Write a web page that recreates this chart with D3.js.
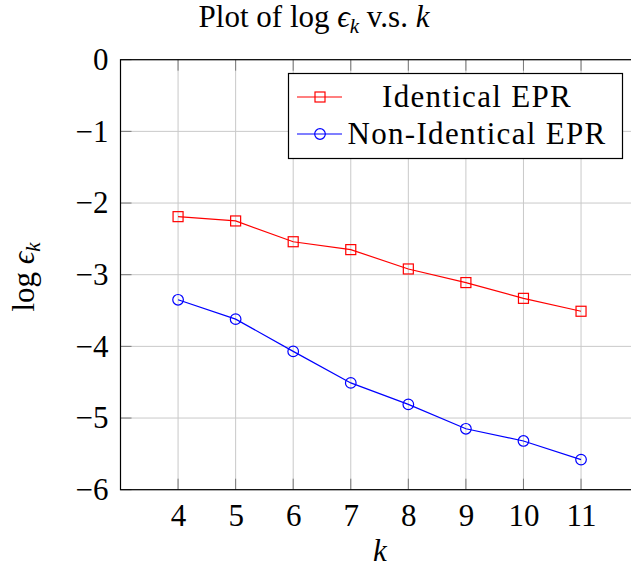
<!DOCTYPE html>
<html>
<head>
<meta charset="utf-8">
<script src="https://cdn.jsdelivr.net/npm/d3@7"></script>
<style>
  body { margin: 0; background: #fff; }
  text { font-family: "Liberation Serif", "DejaVu Serif", serif; fill: #000; }
</style>
</head>
<body>
<div id="chart"></div>
<script>
(function () {
    "use strict";

    // values
    const ks = [4, 5, 6, 7, 8, 9, 10, 11];
    const identical = [-2.19, -2.25, -2.54, -2.65, -2.92, -3.11, -3.33, -3.51];
    const nonIdentical = [-3.35, -3.62, -4.07, -4.51, -4.81, -5.15, -5.32, -5.58];
    const yTicks = [0, -1, -2, -3, -4, -5, -6];
    const seriesNames = ["Identical EPR", "Non-Identical EPR"];

    const width = 631, height = 571;
    const left = 120.5, right = 638.6, top = 59.7, bottom = 489.7;
    const fontSize = 31;

    let svg = d3.select("#chart").append("svg").attr("width", width).attr("height", height);

    let x = d3.scaleLinear().domain([3, 12]).range([left, right]);
    let y = d3.scaleLinear().domain([-6, 0]).range([bottom, top]);

    // grid
    let grid = svg.append("g");
    grid.selectAll("line.gx").data(ks).enter().append("line")
        .attr("x1", (d) => x(d)).attr("x2", (d) => x(d))
        .attr("y1", top).attr("y2", bottom)
        .attr("stroke", "#c9c9c9").attr("stroke-width", 1);
    grid.selectAll("line.gy").data(yTicks).enter().append("line")
        .attr("x1", left).attr("x2", right)
        .attr("y1", (d) => y(d)).attr("y2", (d) => y(d))
        .attr("stroke", "#c9c9c9").attr("stroke-width", 1);

    // small tick marks inside the frame
    let tk = svg.append("g").attr("stroke", "#7a7a7a").attr("stroke-width", 1);
    ks.forEach((k) => {
        tk.append("line").attr("x1", x(k)).attr("x2", x(k)).attr("y1", bottom).attr("y2", bottom - 11);
        tk.append("line").attr("x1", x(k)).attr("x2", x(k)).attr("y1", top).attr("y2", top + 11);
    });
    yTicks.forEach((v) => {
        tk.append("line").attr("x1", left).attr("x2", left + 11).attr("y1", y(v)).attr("y2", y(v));
    });

    // frame
    svg.append("rect").attr("x", left).attr("y", top)
        .attr("width", right - left).attr("height", bottom - top)
        .attr("fill", "none").attr("stroke", "#000").attr("stroke-width", 1.2);

    // tick labels
    let xAxis = d3.axisBottom(x).tickValues(ks).tickSize(0).tickPadding(14);
    let gx = svg.append("g").attr("transform", `translate(0,${bottom})`).call(xAxis);
    gx.select(".domain").remove();
    gx.selectAll("text").attr("font-size", fontSize).attr("font-family", null).attr("fill", "#000");

    let yAxis = d3.axisLeft(y).tickValues(yTicks).tickSize(0).tickPadding(12)
        .tickFormat((d) => (d < 0 ? "\u2212" + Math.abs(d) : d));
    let gy = svg.append("g").attr("transform", `translate(${left},0)`).call(yAxis);
    gy.select(".domain").remove();
    gy.selectAll("text").attr("font-size", fontSize).attr("font-family", null).attr("fill", "#000");

    // series
    let line = d3.line().x((d) => x(d[0])).y((d) => y(d[1]));
    let redData = ks.map((k, i) => [k, identical[i]]);
    let blueData = ks.map((k, i) => [k, nonIdentical[i]]);

    svg.append("path").datum(redData).attr("d", line)
        .attr("fill", "none").attr("stroke", "#ff0000").attr("stroke-width", 1.2);
    svg.selectAll("rect.m").data(redData).enter().append("rect")
        .attr("x", (d) => x(d[0]) - 5).attr("y", (d) => y(d[1]) - 5)
        .attr("width", 10).attr("height", 10)
        .attr("fill", "none").attr("stroke", "#ff0000").attr("stroke-width", 1.2);

    svg.append("path").datum(blueData).attr("d", line)
        .attr("fill", "none").attr("stroke", "#0000ff").attr("stroke-width", 1.2);
    svg.selectAll("circle.m").data(blueData).enter().append("circle")
        .attr("cx", (d) => x(d[0])).attr("cy", (d) => y(d[1])).attr("r", 5.3)
        .attr("fill", "none").attr("stroke", "#0000ff").attr("stroke-width", 1.2);

    // legend
    let lg = svg.append("g");
    lg.append("rect").attr("x", 288.5).attr("y", 73.5).attr("width", 334).attr("height", 85)
        .attr("fill", "#fff").attr("stroke", "#000").attr("stroke-width", 1.2);
    let rows = [97, 134];
    lg.append("line").attr("x1", 297).attr("x2", 342).attr("y1", rows[0]).attr("y2", rows[0])
        .attr("stroke", "#ff0000").attr("stroke-width", 1.2);
    lg.append("rect").attr("x", 315).attr("y", rows[0] - 5).attr("width", 10).attr("height", 10)
        .attr("fill", "none").attr("stroke", "#ff0000").attr("stroke-width", 1.2);
    lg.append("line").attr("x1", 297).attr("x2", 342).attr("y1", rows[1]).attr("y2", rows[1])
        .attr("stroke", "#0000ff").attr("stroke-width", 1.2);
    lg.append("circle").attr("cx", 320).attr("cy", rows[1]).attr("r", 5.3)
        .attr("fill", "none").attr("stroke", "#0000ff").attr("stroke-width", 1.2);
    lg.selectAll("text.l").data(seriesNames).enter().append("text")
        .attr("x", 477).attr("y", (d, i) => rows[i] + 10)
        .attr("text-anchor", "middle").attr("font-size", fontSize)
        .attr("letter-spacing", 1.3)
        .text((d) => d);

    // title
    let title = svg.append("text").attr("x", 314).attr("y", 27)
        .attr("text-anchor", "middle").attr("font-size", fontSize);
    title.append("tspan").text("Plot of log ");
    title.append("tspan").attr("font-style", "italic").text("\u03f5");
    title.append("tspan").attr("font-style", "italic").attr("font-size", 21).attr("dy", 6).text("k");
    title.append("tspan").attr("dy", -6).text(" v.s.  ");
    title.append("tspan").attr("font-style", "italic").text("k");

    // y label
    let yl = svg.append("text").attr("transform", "translate(34,277) rotate(-90)")
        .attr("text-anchor", "middle").attr("font-size", fontSize);
    yl.append("tspan").text("log ");
    yl.append("tspan").attr("font-style", "italic").text("\u03f5");
    yl.append("tspan").attr("font-style", "italic").attr("font-size", 21).attr("dy", 6).text("k");

    // x label
    svg.append("text").attr("x", 380).attr("y", 561).attr("text-anchor", "middle")
        .attr("font-size", fontSize).attr("font-style", "italic").text("k");
})();
</script>
</body>
</html>
